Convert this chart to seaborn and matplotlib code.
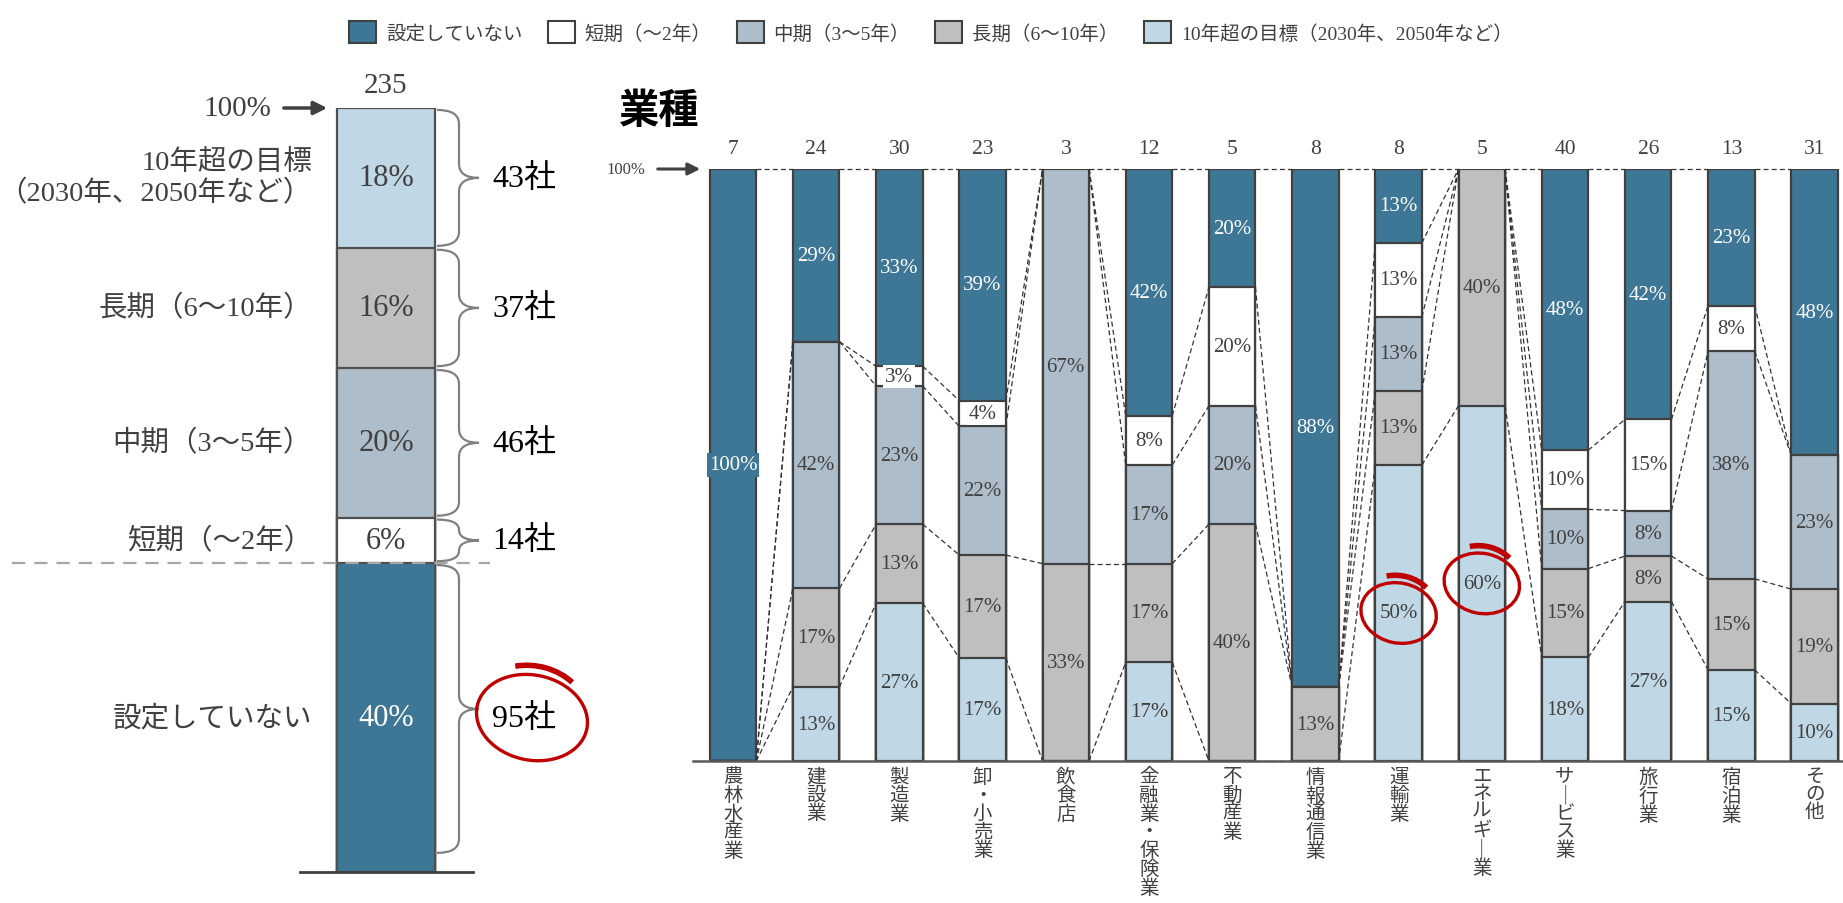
import numpy as np
import pandas as pd
import matplotlib
matplotlib.use("Agg")
import matplotlib.pyplot as plt
import seaborn as sns
from matplotlib.patches import Patch, Ellipse, Arc, PathPatch
from matplotlib.path import Path
from matplotlib.transforms import ScaledTranslation

# ---------------- data ----------------
industries = ["農林水産業", "建設業", "製造業", "卸・小売業", "飲食店", "金融業・保険業",
              "不動産業", "情報通信業", "運輸業", "エネルギー業", "サービス業",
              "旅行業", "宿泊業", "その他"]

# number of companies giving each answer, per industry
cnt_none = [7, 7, 10, 9, 0, 5, 1, 7, 1, 0, 19, 11, 3, 15]
cnt_short = [0, 0, 1, 1, 0, 1, 1, 0, 1, 0, 4, 4, 1, 0]
cnt_mid = [0, 10, 7, 5, 2, 2, 1, 0, 1, 0, 4, 2, 5, 7]
cnt_long = [0, 4, 4, 4, 1, 2, 2, 1, 1, 2, 6, 2, 2, 6]
cnt_over10 = [0, 3, 8, 4, 0, 2, 0, 0, 4, 3, 7, 7, 2, 3]

legend_labels = ["設定していない", "短期（〜2年）", "中期（3〜5年）", "長期（6〜10年）",
                 "10年超の目標（2030年、2050年など）"]
side_labels = ["設定していない", "短期（〜2年）", "中期（3〜5年）", "長期（6〜10年）",
               "10年超の目標\n（2030年、2050年など）"]

# ---------------- style ----------------
colors = ["#3E7696", "#FFFFFF", "#AEBDCA", "#BFBFBF", "#C0D8E6"]
text_on = ["white", "#404040", "#404040", "#404040", "#404040"]
EDGE = "#404040"
TXT = "#404040"
RED = "#C00000"

sns.set_theme(style="white")
plt.rcParams["font.family"] = ["Liberation Serif", "Noto Sans CJK JP"]

counts = np.array([cnt_none, cnt_short, cnt_mid, cnt_long, cnt_over10], dtype=float)
n_ind = counts.sum(axis=0)
pct = counts * 100 / n_ind
totals = counts.sum(axis=1)
n_all = totals.sum()
pct_all = totals * 100 / n_all


def fmt(p):
    return f"{int(np.floor(p + 0.5))}%"


W, H = 1843, 904
fig = plt.figure(figsize=(W / 100, H / 100), dpi=100)

# ================= right panel: by industry =================
R_LEFT, R_RIGHT, R_TOP, R_BOT = 693, 1843, 170, 762
R_X0, R_STEP = 733, 83.2
BAR_W = 0.56
axR = fig.add_axes([R_LEFT / W, 1 - R_BOT / H, (R_RIGHT - R_LEFT) / W, (R_BOT - R_TOP) / H])


def rx(px):
    return (px - R_X0) / R_STEP


def ry(py):
    return (R_BOT - py) * 100 / (R_BOT - R_TOP)


stack_right = [4, 3, 2, 1, 0]          # bottom -> top
cum_right = np.cumsum(pct[stack_right], axis=0)

for k in reversed(range(5)):
    layer = stack_right[k]
    df = pd.DataFrame({"industry": industries, "h": cum_right[k]})
    sns.barplot(data=df, x="industry", y="h", order=industries, color=colors[layer],
                saturation=1, width=BAR_W, edgecolor=EDGE, linewidth=1.6,
                errorbar=None, ax=axR)

for k in range(5):
    layer = stack_right[k]
    lo = cum_right[k - 1] if k > 0 else np.zeros(len(industries))
    hi = cum_right[k]
    for i in range(len(industries)):
        if counts[layer, i] > 0:
            axR.text(i, (lo[i] + hi[i]) / 2, fmt(pct[layer, i]), ha="center", va="center",
                     fontsize=15, color=text_on[layer], zorder=5,
                     bbox=dict(boxstyle="square,pad=0.1", facecolor=colors[layer], edgecolor="none"))

# dashed connectors between neighbouring bars
for k in range(5):
    lev = cum_right[k]
    for i in range(len(industries) - 1):
        axR.plot([i + BAR_W / 2, i + 1 - BAR_W / 2], [lev[i], lev[i + 1]],
                 color="#333333", lw=0.9, ls=(0, (4, 2.5)), zorder=2, clip_on=False)

for i, nn in enumerate(n_ind):
    axR.text(i, ry(150), f"{int(nn)}", ha="center", va="center", fontsize=15.5, color=TXT, clip_on=False)

axR.set_xlim(rx(R_LEFT), rx(R_RIGHT))
axR.set_ylim(0, 100)
axR.set_xlabel("")
axR.set_ylabel("")
axR.set_yticks([])
axR.set_xticks(range(len(industries)))
vert = ["\n".join(s.replace("ー", "｜")) for s in industries]
axR.set_xticklabels(vert, fontsize=14, color=TXT, linespacing=1.04, va="top")
axR.tick_params(axis="x", length=0, pad=5)
for s in ["top", "right", "left"]:
    axR.spines[s].set_visible(False)
axR.spines["bottom"].set_color("#595959")
axR.spines["bottom"].set_linewidth(1.8)

axR.text(rx(619), ry(112), "業種", ha="left", va="center", fontsize=29, fontweight="bold",
         family=["Noto Sans CJK JP"], color="black", clip_on=False)
axR.text(rx(645), 100, "100%", ha="right", va="center", fontsize=12, color=TXT, clip_on=False)
axR.annotate("", xy=(rx(703), 100), xytext=(rx(655), 100), annotation_clip=False,
             arrowprops=dict(arrowstyle="-|>", color="#404040", lw=2.2, mutation_scale=18))

# ================= left panel: all companies =================
L_TOP, L_BOT = 109, 873
L_XC, L_UNIT = 386, 122.5
axL = fig.add_axes([0, 1 - L_BOT / H, 600 / W, (L_BOT - L_TOP) / H])


def lx(px):
    return (px - L_XC) / L_UNIT


def ly(py):
    return (L_BOT - py) * 100 / (L_BOT - L_TOP)


stack_left = [0, 1, 2, 3, 4]            # bottom -> top
cum_left = np.cumsum(pct_all[stack_left])
for k in reversed(range(5)):
    layer = stack_left[k]
    df = pd.DataFrame({"group": ["全体"], "h": [cum_left[k]]})
    sns.barplot(data=df, x="group", y="h", color=colors[layer], saturation=1, width=0.8,
                edgecolor="#505050", linewidth=1.6, errorbar=None, ax=axL)

axL.set_xlim(lx(0), lx(600))
axL.set_ylim(0, 100)
axL.set_xlabel("")
axL.set_ylabel("")
axL.set_xticks([])
axL.set_yticks([])
for s in ["top", "right", "left"]:
    axL.spines[s].set_visible(False)
axL.spines["bottom"].set_bounds(lx(300), lx(473))
axL.spines["bottom"].set_color("#404040")
axL.spines["bottom"].set_linewidth(2)


def brace(ax, ytop, ybot, x0, xs, xt, q):
    ym = (ytop + ybot) / 2
    verts = [(x0, ytop), (xs, ytop), (xs, ytop - q), (xs, ym + q), (xs, ym), (xt, ym),
             (xs, ym), (xs, ym - q), (xs, ybot + q), (xs, ybot), (x0, ybot)]
    codes = [Path.MOVETO, Path.CURVE3, Path.CURVE3, Path.LINETO, Path.CURVE3, Path.CURVE3,
             Path.CURVE3, Path.CURVE3, Path.LINETO, Path.CURVE3, Path.CURVE3]
    ax.add_patch(PathPatch(Path(verts, codes), fill=False, edgecolor="#808080", lw=1.6,
                           clip_on=False))


px2y = 100 / (L_BOT - L_TOP)
for k in range(5):
    layer = stack_left[k]
    lo = cum_left[k - 1] if k > 0 else 0
    hi = cum_left[k]
    mid = (lo + hi) / 2
    axL.text(0, mid, fmt(pct_all[layer]), ha="center", va="center", fontsize=22,
             color=text_on[layer], zorder=5)
    axL.text(lx(312), mid, side_labels[layer], ha="right", va="center", fontsize=20.5,
             color=TXT, multialignment="right", linespacing=1.2)
    axL.text(lx(492), mid, f"{int(totals[layer])}社", ha="left", va="center", fontsize=23,
             color="black")
    bot = lo + 0.25 if k > 0 else 2.5
    top = hi - 0.25
    q = min(14 * px2y, (top - bot) / 4)
    brace(axL, top, bot, lx(437), lx(459), lx(479), q)

axL.plot([lx(12), lx(490)], [cum_left[0], cum_left[0]], color="#A6A6A6", lw=1.6,
         ls=(0, (6, 4)), clip_on=False, zorder=4)
axL.text(0, ly(86), f"{int(n_all)}", ha="center", va="center", fontsize=21, color=TXT,
         clip_on=False)
axL.text(lx(271), 100, "100%", ha="right", va="center", fontsize=21, color=TXT, clip_on=False)
axL.annotate("", xy=(lx(330), 100), xytext=(lx(281), 100), annotation_clip=False,
             arrowprops=dict(arrowstyle="-|>", color="#404040", lw=2.5, mutation_scale=20))


# ================= red highlight rings =================
def ring(ax, x, y, w_px, h_px, angle=-12):
    tr = fig.dpi_scale_trans + ScaledTranslation(x, y, ax.transData)
    ax.add_patch(Ellipse((0, 0), w_px / 100, h_px / 100, angle=angle, fill=False,
                         edgecolor=RED, lw=2.4, transform=tr, clip_on=False, zorder=6))
    ax.add_patch(Arc((-0.01, 0.03), w_px / 100 * 1.05, h_px / 100 * 1.15, angle=angle,
                     theta1=50, theta2=120, edgecolor=RED, lw=4, transform=tr,
                     clip_on=False, zorder=6))


i_trans = industries.index("運輸業")
i_energy = industries.index("エネルギー業")
ring(axR, i_trans, cum_right[0][i_trans] / 2, 76, 60)
ring(axR, i_energy, cum_right[0][i_energy] / 2, 76, 60)
ring(axL, lx(532), cum_left[0] / 2, 112, 85)

# ================= legend =================
handles = [Patch(facecolor=c, edgecolor="#404040", linewidth=1.5) for c in colors]
fig.legend(handles, legend_labels, loc="upper center", bbox_to_anchor=(0.505, 0.995), ncol=5,
           frameon=False, fontsize=14, handlelength=1.4, handleheight=1.4, handletextpad=0.5,
           columnspacing=1.3, labelcolor=TXT)

fig.savefig("out.png", dpi=100, facecolor="white")
